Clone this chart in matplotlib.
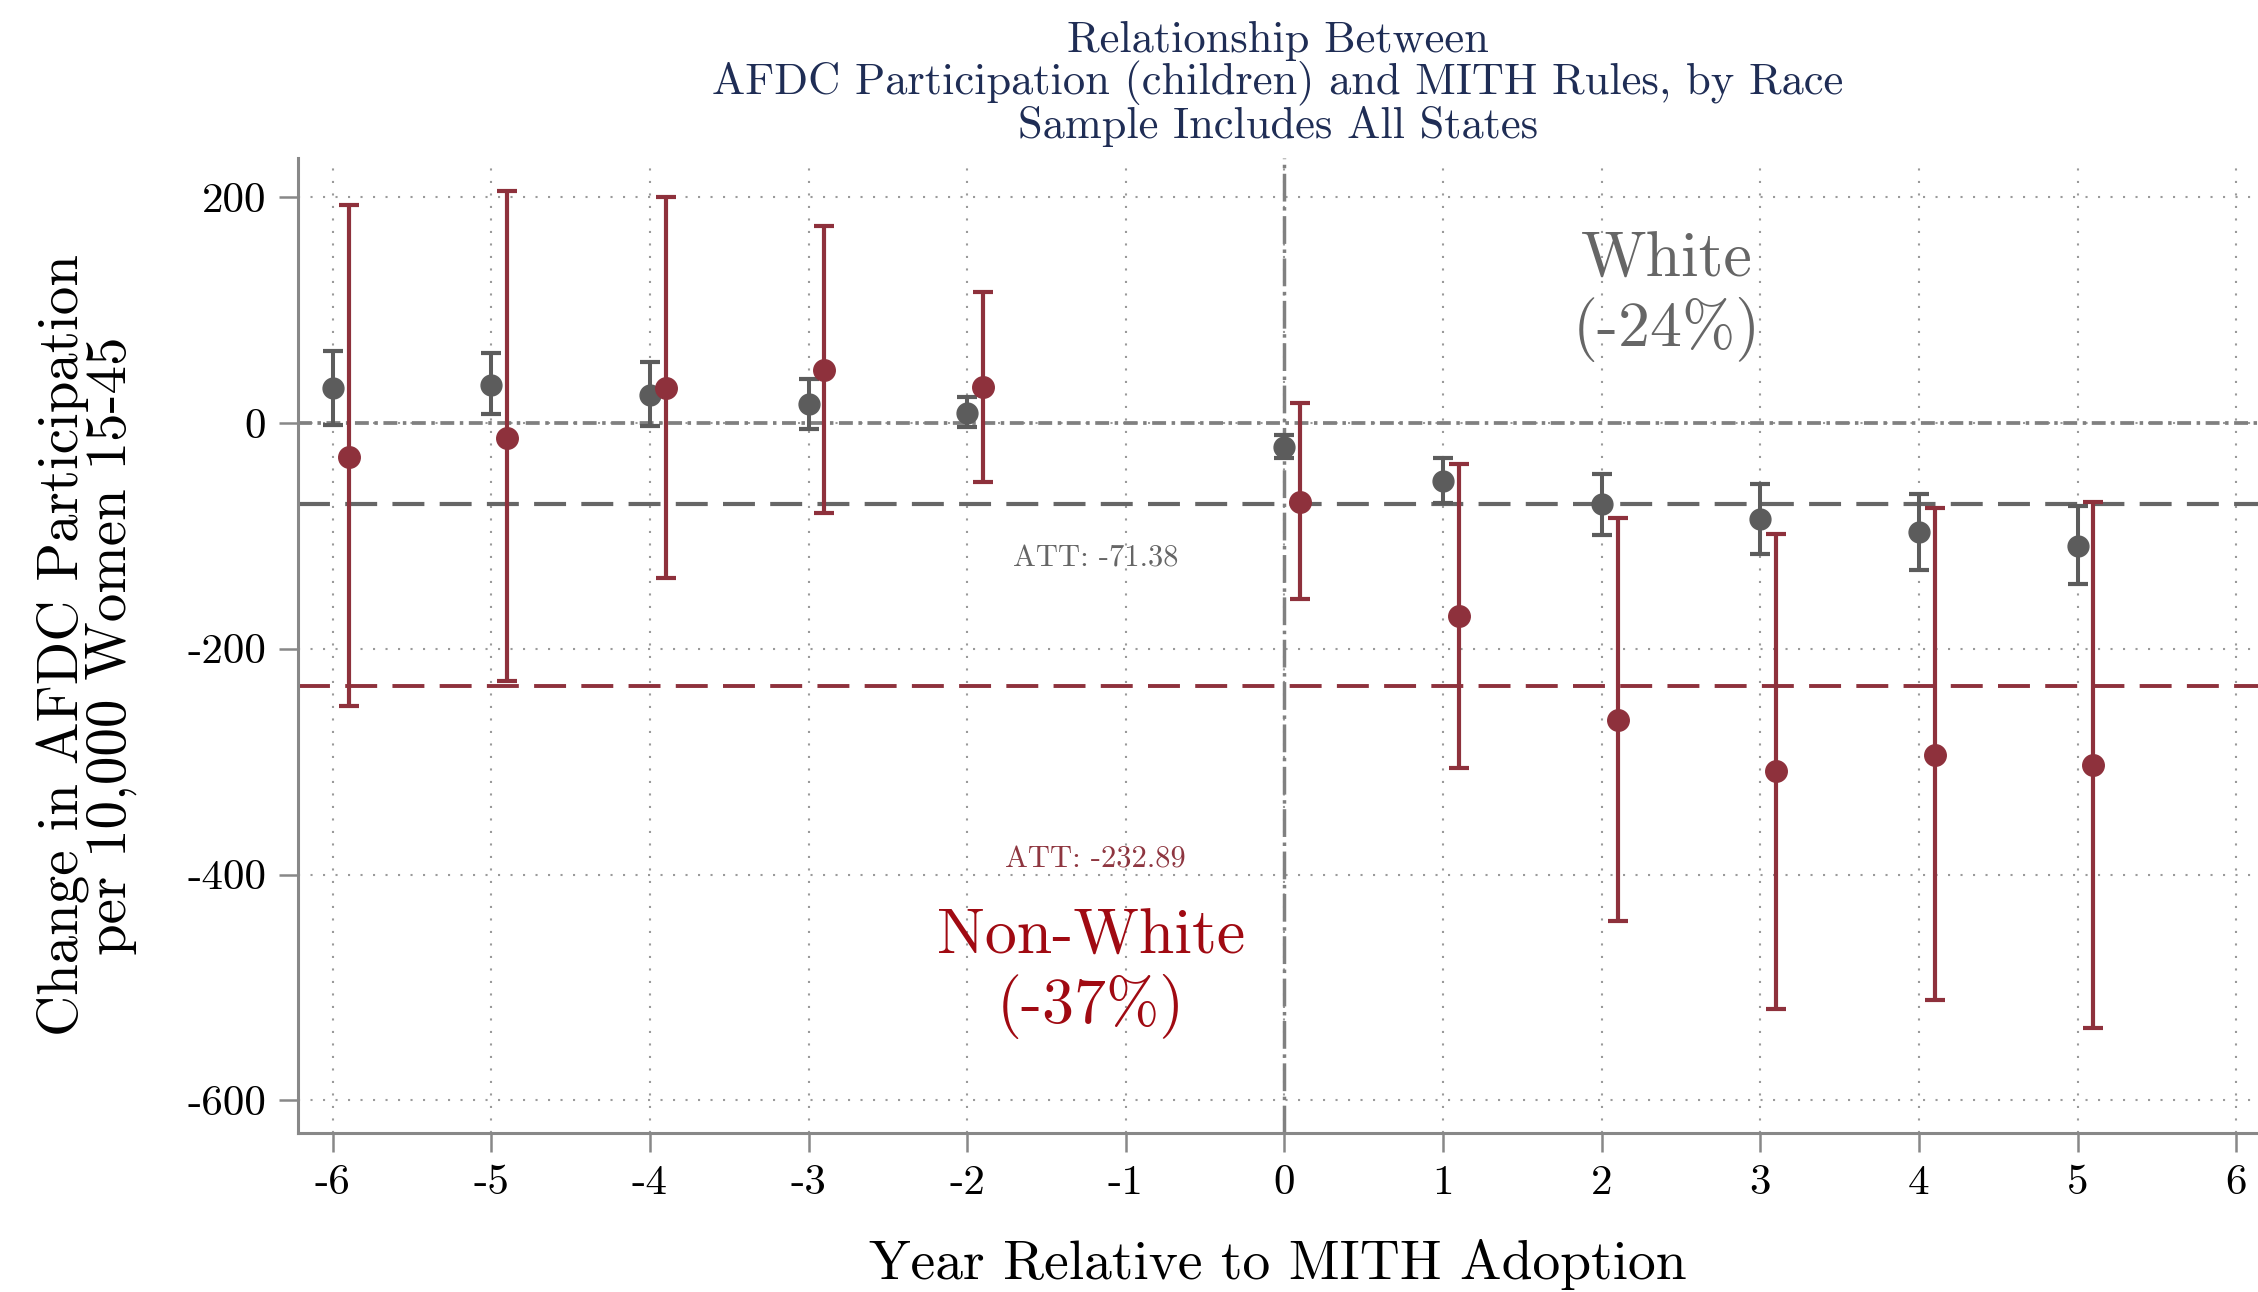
import numpy as np
import matplotlib
matplotlib.use("Agg")
import matplotlib.pyplot as plt

plt.rcParams['font.family'] = ['cmr10', 'DejaVu Serif']
plt.rcParams['axes.unicode_minus'] = False
plt.rcParams['mathtext.fontset'] = 'cm'
plt.rcParams['lines.scale_dashes'] = False

# event time
yrs = [-6, -5, -4, -3, -2, 0, 1, 2, 3, 4, 5]

# White: point estimate and 95% CI
white_est = [31, 34, 25, 17, 9, -21, -51, -72, -85, -97, -109]
white_lo = [-2, 8, -3, -5, -4, -31, -71, -99, -116, -130, -143]
white_hi = [64, 62, 54, 39, 23, -11, -31, -45, -54, -63, -74]

# Non-White
nw_est = [-30, -13, 31, 47, 32, -70, -171, -263, -308, -294, -303]
nw_lo = [-251, -229, -137, -80, -52, -156, -306, -441, -519, -511, -536]
nw_hi = [193, 205, 200, 174, 116, 18, -36, -84, -98, -75, -70]

att_white = -71.38
att_nw = -232.89

xticks = list(range(-6, 7))
yticks = [200, 0, -200, -400, -600]

c_gray = '#5c5c5c'
c_red = '#8e313c'
c_axis = '#888888'
c_title = '#1f2d55'

fig = plt.figure(figsize=(22.58, 12.92), dpi=100)
ax = fig.add_axes([0.132, 0.123, 0.868, 0.755])

ax.set_xlim(-6.218, 6.137)
ax.set_ylim(-629, 235)

# grid
for xt in xticks:
    ax.axvline(xt, color='#9a9a9a', lw=1.5, ls=(0, (1.5, 7.5)), zorder=0)
for yt in yticks:
    ax.axhline(yt, color='#9a9a9a', lw=1.5, ls=(0, (1.5, 7.5)), zorder=0)

# reference lines
ax.axhline(0, color='#808080', lw=2.7, ls=(0, (10, 4, 2.5, 4)), zorder=1)
ax.axvline(0, color='#808080', lw=2.5, ls=(0, (20, 4, 2.5, 4)), zorder=1)
ax.axhline(att_white, color='#666666', lw=3.0, ls=(0, (23, 11)), zorder=1)
ax.axhline(att_nw, color=c_red, lw=2.8, ls=(0, (23, 11)), zorder=1)

# white series
w_est = np.array(white_est)
w_err = [w_est - np.array(white_lo), np.array(white_hi) - w_est]
ax.errorbar(yrs, w_est, yerr=w_err, fmt='o', color=c_gray, ms=15,
            elinewidth=2.9, capsize=7, capthick=3.0, zorder=3)

# non-white series, shifted a bit to the right
n_est = np.array(nw_est)
n_err = [n_est - np.array(nw_lo), np.array(nw_hi) - n_est]
ax.errorbar(np.array(yrs) + 0.1, n_est, yerr=n_err, fmt='o', color=c_red, ms=15.5,
            elinewidth=3.0, capsize=7, capthick=3.0, zorder=4)

# labels
ax.text(-1.19, -127, 'ATT: -71.38', color='#666666', fontsize=22,
        ha='center', va='baseline')
ax.text(-1.19, -394, 'ATT: -232.89', color='#8e3640', fontsize=22,
        ha='center', va='baseline')
ax.text(2.41, 112, 'White\n(-24%)', color='#666666', fontsize=46,
        ha='center', va='center', linespacing=1.15)
ax.text(-1.22, -488, 'Non-White\n(-37%)', color='#a00a12', fontsize=46,
        ha='center', va='center', linespacing=1.15)

ax.set_xticks(xticks)
ax.set_xticklabels([str(v) for v in xticks])
ax.set_yticks(yticks)
ax.set_yticklabels([str(v) for v in yticks])

for s in ['top', 'right']:
    ax.spines[s].set_visible(False)
for s in ['left', 'bottom']:
    ax.spines[s].set_color(c_axis)
    ax.spines[s].set_linewidth(2.2)
ax.tick_params(axis='both', colors=c_axis, length=14, width=1.8,
               labelsize=31, labelcolor='black', pad=9)

ax.set_xlabel('Year Relative to MITH Adoption', fontsize=40, labelpad=26)
ax.set_ylabel('Change in AFDC Participation\nper 10,000 Women 15-45',
              fontsize=41, linespacing=0.88, labelpad=36)
ax.set_title('Relationship Between\nAFDC Participation (children) and MITH Rules, by Race\n'
             'Sample Includes All States', color=c_title, fontsize=32,
             linespacing=1.0, pad=14)

fig.savefig('out.png', dpi=100)
